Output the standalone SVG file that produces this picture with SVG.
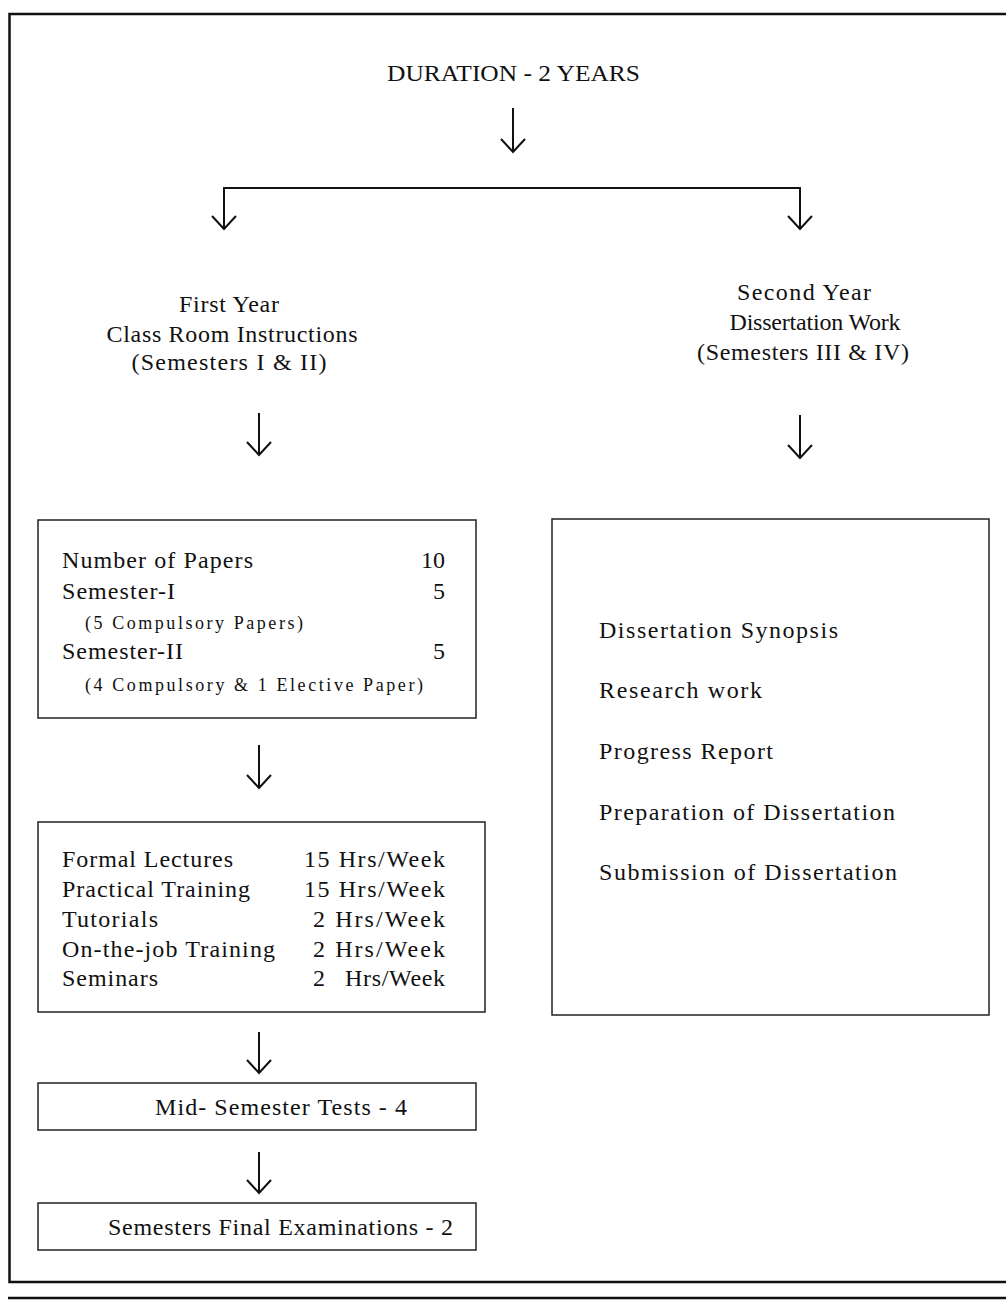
<svg xmlns="http://www.w3.org/2000/svg" width="1006" height="1300" viewBox="0 0 1006 1300">
<style>
  text { font-family: "Liberation Serif", "Times New Roman", Tinos, "DejaVu Serif", serif; fill: #111; }
  .t { font-size: 24px; }
  .s { font-size: 18px; }
  .box { fill: none; stroke: #222; stroke-width: 1.5; }
  .frame { fill: none; stroke: #111; stroke-width: 2.5; }
  .conn { fill: none; stroke: #111; stroke-width: 2; }
</style>
<defs>
  <marker id="chev" viewBox="0 0 16 26" refX="14" refY="13" markerWidth="16" markerHeight="26" markerUnits="userSpaceOnUse" orient="auto">
    <path d="M1,1 L14,13 L1,25" fill="none" stroke="#111" stroke-width="2"/>
  </marker>
</defs>
<rect width="1006" height="1300" fill="#fff"/>
<g id="frame">
  <path class="frame" d="M1006,14 H9.5 V1282 H1006"/>
  <line class="frame" x1="8" y1="1298" x2="1006" y2="1298"/>
</g>
<g id="connectors">
  <line class="conn" x1="513" y1="108" x2="513" y2="152" marker-end="url(#chev)"/>
  <path class="conn" d="M224,220 V188 H800 V220"/>
  <line class="conn" x1="224" y1="200" x2="224" y2="229" marker-end="url(#chev)"/>
  <line class="conn" x1="800" y1="200" x2="800" y2="229" marker-end="url(#chev)"/>
  <line class="conn" x1="259" y1="413" x2="259" y2="455" marker-end="url(#chev)"/>
  <line class="conn" x1="800" y1="415" x2="800" y2="458" marker-end="url(#chev)"/>
  <line class="conn" x1="259" y1="745" x2="259" y2="788" marker-end="url(#chev)"/>
  <line class="conn" x1="259" y1="1032" x2="259" y2="1073" marker-end="url(#chev)"/>
  <line class="conn" x1="259" y1="1152" x2="259" y2="1193" marker-end="url(#chev)"/>
</g>
<g id="duration">
  <text class="t" x="387" y="81" textLength="253" lengthAdjust="spacingAndGlyphs">DURATION -  2 YEARS</text>
</g>
<g id="first-year">
  <text class="t" x="229" y="312" text-anchor="middle" textLength="100" lengthAdjust="spacing">First Year</text>
  <text class="t" x="232" y="342" text-anchor="middle" textLength="251" lengthAdjust="spacing">Class Room Instructions</text>
  <text class="t" x="229" y="370" text-anchor="middle" textLength="195" lengthAdjust="spacing">(Semesters I &amp; II)</text>
</g>
<g id="second-year">
  <text class="t" x="804" y="300" text-anchor="middle" textLength="134" lengthAdjust="spacing">Second Year</text>
  <text class="t" x="815" y="330" text-anchor="middle" textLength="171" lengthAdjust="spacing">Dissertation Work</text>
  <text class="t" x="803" y="360" text-anchor="middle" textLength="212" lengthAdjust="spacing">(Semesters III &amp; IV)</text>
</g>
<g id="papers">
  <rect class="box" x="38" y="520" width="438" height="198"/>
  <text class="t" x="62" y="568" textLength="191" lengthAdjust="spacing">Number of Papers</text>
  <text class="t" x="445" y="568" text-anchor="end">10</text>
  <text class="t" x="62" y="599" textLength="113" lengthAdjust="spacing">Semester-I</text>
  <text class="t" x="445" y="599" text-anchor="end">5</text>
  <text class="s" x="85" y="629" textLength="218" lengthAdjust="spacing">(5 Compulsory Papers)</text>
  <text class="t" x="62" y="659" textLength="121" lengthAdjust="spacing">Semester-II</text>
  <text class="t" x="445" y="659" text-anchor="end">5</text>
  <text class="s" x="85" y="691" textLength="338" lengthAdjust="spacing">(4 Compulsory &amp; 1 Elective Paper)</text>
</g>
<g id="hours">
  <rect class="box" x="38" y="822" width="447" height="190"/>
  <text class="t" x="62" y="867" textLength="171" lengthAdjust="spacing">Formal Lectures</text>
  <text class="t" x="304" y="867" textLength="141" lengthAdjust="spacing">15 Hrs/Week</text>
  <text class="t" x="62" y="897" textLength="188" lengthAdjust="spacing">Practical Training</text>
  <text class="t" x="304" y="897" textLength="141" lengthAdjust="spacing">15 Hrs/Week</text>
  <text class="t" x="62" y="927" textLength="96" lengthAdjust="spacing">Tutorials</text>
  <text class="t" x="313" y="927" textLength="132" lengthAdjust="spacing">2 Hrs/Week</text>
  <text class="t" x="62" y="957" textLength="213" lengthAdjust="spacing">On-the-job Training</text>
  <text class="t" x="313" y="957" textLength="132" lengthAdjust="spacing">2 Hrs/Week</text>
  <text class="t" x="62" y="986" textLength="96" lengthAdjust="spacing">Seminars</text>
  <text class="t" x="313" y="986">2</text>
  <text class="t" x="345" y="986" textLength="100" lengthAdjust="spacing">Hrs/Week</text>
</g>
<g id="mid-tests">
  <rect class="box" x="38" y="1083" width="438" height="47"/>
  <text class="t" x="155" y="1115" textLength="252" lengthAdjust="spacing">Mid- Semester Tests - 4</text>
</g>
<g id="final-exams">
  <rect class="box" x="38" y="1203" width="438" height="47"/>
  <text class="t" x="108" y="1235" textLength="345" lengthAdjust="spacing">Semesters Final Examinations - 2</text>
</g>
<g id="dissertation">
  <rect class="box" x="552" y="519" width="437" height="496"/>
  <text class="t" x="599" y="638" textLength="239" lengthAdjust="spacing">Dissertation Synopsis</text>
  <text class="t" x="599" y="698" textLength="163" lengthAdjust="spacing">Research  work</text>
  <text class="t" x="599" y="759" textLength="174" lengthAdjust="spacing">Progress Report</text>
  <text class="t" x="599" y="820" textLength="296" lengthAdjust="spacing">Preparation of  Dissertation</text>
  <text class="t" x="599" y="880" textLength="298" lengthAdjust="spacing">Submission of  Dissertation</text>
</g>
</svg>
